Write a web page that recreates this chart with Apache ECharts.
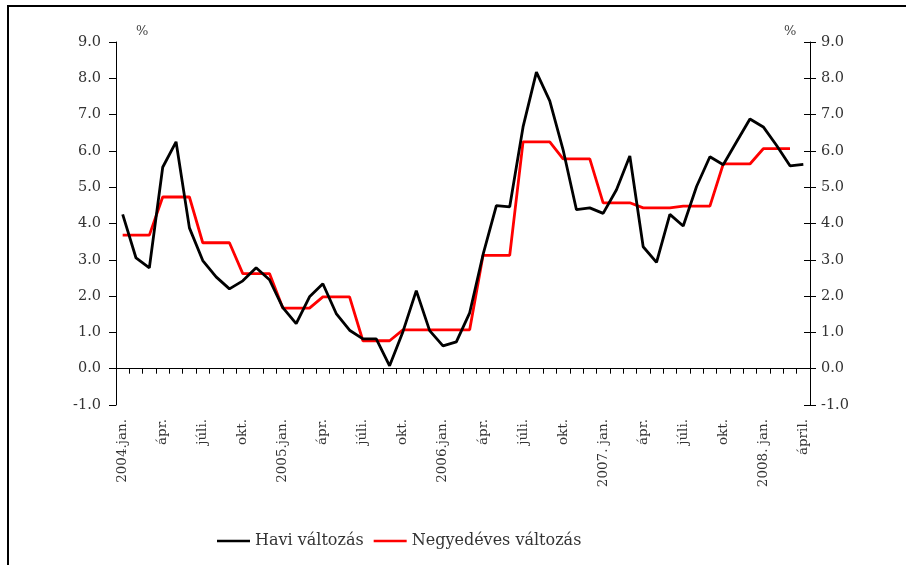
<!DOCTYPE html>
<html>
<head>
<meta charset="utf-8">
<script src="https://cdn.jsdelivr.net/npm/echarts@6/dist/echarts.min.js"></script>
<style>
  html, body { margin: 0; padding: 0; background: #fff; }
  #chart { width: 906px; height: 565px; }
</style>
</head>
<body>
<div id="chart"></div>
<script>
// hónapok (csak a negyedévek elején van felirat)
var months = [
  '2004.jan.', '', '', 'ápr.', '', '', 'júli.', '', '', 'okt.', '', '',
  '2005.jan.', '', '', 'ápr.', '', '', 'júli.', '', '', 'okt.', '', '',
  '2006.jan.', '', '', 'ápr.', '', '', 'júli.', '', '', 'okt.', '', '',
  '2007. jan.', '', '', 'ápr.', '', '', 'júli.', '', '', 'okt.', '', '',
  '2008. jan.', '', '', 'ápril.'
];

// Havi változás (%)
var haviValtozas = [
  4.25, 3.05, 2.78, 5.55, 6.25, 3.88, 2.98, 2.53, 2.20, 2.42, 2.78, 2.45,
  1.68, 1.24, 1.98, 2.34, 1.52, 1.06, 0.82, 0.82, 0.08, 1.02, 2.15, 1.05,
  0.63, 0.74, 1.54, 3.14, 4.49, 4.46, 6.66, 8.17, 7.38, 6.03, 4.38, 4.43,
  4.28, 4.93, 5.86, 3.36, 2.93, 4.25, 3.93, 5.02, 5.84, 5.62, 6.25, 6.88,
  6.66, 6.15, 5.59, 5.63
];

// Negyedéves változás (%)
var negyedevesValtozas = [
  3.68, 3.68, 3.68, 4.73, 4.73, 4.73, 3.47, 3.47, 3.47, 2.62, 2.62, 2.62,
  1.67, 1.67, 1.67, 1.98, 1.98, 1.98, 0.77, 0.77, 0.77, 1.07, 1.07, 1.07,
  1.07, 1.07, 1.07, 3.12, 3.12, 3.12, 6.25, 6.25, 6.25, 5.78, 5.78, 5.78,
  4.57, 4.57, 4.57, 4.43, 4.43, 4.43, 4.48, 4.48, 4.48, 5.64, 5.64, 5.64,
  6.06, 6.06, 6.06, null
];

var serif = 'DejaVu Serif';

var chart = echarts.init(document.getElementById('chart'));
chart.setOption({
  animation: false,
  grid: { left: 116, right: 96, top: 42, bottom: 160 },
  // keret
  graphic: [
    { type: 'rect', shape: { x: 8, y: 6, width: 1000, height: 1000 },
      style: { fill: 'none', stroke: '#000', lineWidth: 2 } },
    { type: 'text', left: 136, top: 25,
      style: { text: '%', font: '13px "DejaVu Serif"', fill: '#444' } },
    { type: 'text', left: 784, top: 25,
      style: { text: '%', font: '13px "DejaVu Serif"', fill: '#444' } }
  ],
  legend: {
    left: 212,
    top: 528,
    icon: 'rect',
    itemWidth: 33,
    itemHeight: 2.5,
    itemGap: 10,
    textStyle: { fontFamily: serif, fontSize: 16, color: '#333' },
    data: ['Havi változás', 'Negyedéves változás']
  },
  xAxis: [
    {
      type: 'category',
      data: months,
      axisLine: { onZero: true, lineStyle: { color: '#000', width: 1 } },
      axisTick: { show: true, interval: 0, length: 5, lineStyle: { color: '#000' } },
      axisLabel: { show: false }
    },
    {
      // feliratok az ábra alján
      type: 'category',
      data: months,
      position: 'bottom',
      axisLine: { show: false, onZero: false },
      axisTick: { show: false },
      axisLabel: {
        interval: 0,
        rotate: 90,
        margin: 14,
        fontFamily: serif,
        fontSize: 13.5,
        color: '#333'
      }
    }
  ],
  yAxis: [
    {
      type: 'value',
      min: -1, max: 9, interval: 1,
      position: 'left',
      axisLine: { show: true, lineStyle: { color: '#000' } },
      axisTick: { show: true, length: 7, lineStyle: { color: '#000' } },
      axisLabel: {
        margin: 15,
        fontFamily: serif, fontSize: 14.5, color: '#333',
        formatter: function (v) { return v.toFixed(1); }
      },
      splitLine: { show: false }
    },
    {
      type: 'value',
      min: -1, max: 9, interval: 1,
      position: 'right',
      axisLine: { show: true, lineStyle: { color: '#000' } },
      axisTick: { show: true, length: 6, lineStyle: { color: '#000' } },
      axisLabel: {
        margin: 11,
        fontFamily: serif, fontSize: 14.5, color: '#333',
        formatter: function (v) { return v.toFixed(1); }
      },
      splitLine: { show: false }
    },
    {
      // a jobb tengely befelé nyúló jelölői
      type: 'value',
      min: -1, max: 9, interval: 1,
      position: 'right',
      axisLine: { show: false },
      axisTick: { show: true, inside: true, length: 6, lineStyle: { color: '#000' } },
      axisLabel: { show: false },
      splitLine: { show: false }
    }
  ],
  series: [
    {
      name: 'Havi változás',
      type: 'line',
      data: haviValtozas,
      symbol: 'none',
      lineStyle: { color: '#000', width: 2.8 },
      itemStyle: { color: '#000' },
      z: 3
    },
    {
      name: 'Negyedéves változás',
      type: 'line',
      data: negyedevesValtozas,
      symbol: 'none',
      lineStyle: { color: '#ff0000', width: 2.8 },
      itemStyle: { color: '#ff0000' },
      z: 2
    }
  ]
});
</script>
</body>
</html>
